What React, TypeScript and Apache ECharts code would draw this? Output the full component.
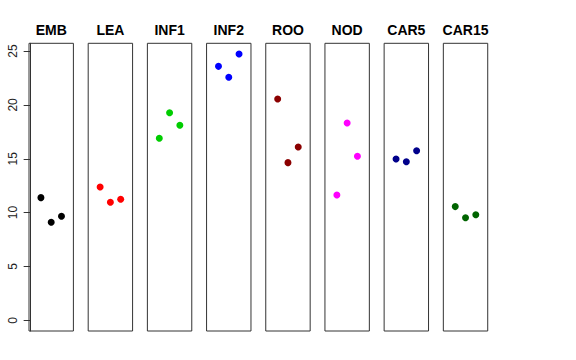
import React, { useEffect, useRef } from "react";
import * as echarts from "echarts";

const categories = ["EMB", "LEA", "INF1", "INF2", "ROO", "NOD", "CAR5", "CAR15"];
const colors = ["#000000", "#FF0000", "#00CD00", "#0000FF", "#8B0000", "#FF00FF", "#00008B", "#006400"];
const xPositions = [1, 2, 3];
const embValues = [11.39, 9.1, 9.66];
const leaValues = [12.38, 10.96, 11.24];
const inf1Values = [16.9, 19.28, 18.11];
const inf2Values = [23.58, 22.56, 24.73];
const rooValues = [20.55, 14.64, 16.09];
const nodValues = [11.64, 18.32, 15.23];
const car5Values = [14.98, 14.73, 15.75];
const car15Values = [10.56, 9.53, 9.81];
const yTicks = [0, 5, 10, 15, 20, 25];

const allValues = [embValues, leaValues, inf1Values, inf2Values, rooValues, nodValues, car5Values, car15Values];

const FONT = "'Liberation Sans', Arial, Helvetica, sans-serif";

export default function App() {
  const ref = useRef<HTMLDivElement>(null);
  useEffect(() => {
    if (!ref.current) return;
    const chart = echarts.init(ref.current, null, { renderer: "svg" });
    const panelLeft0 = 29;
    const panelStep = 59.19;
    const panelWidth = 44.4;
    const top = 43.3;
    const height = 287.7;
    const yMax = Math.max(...allValues.flat());
    const yMin = 0;
    const ext = (yMax - yMin) * 0.04;

    const grids: any[] = [];
    const xAxes: any[] = [];
    const yAxes: any[] = [];
    const series: any[] = [];
    const graphics: any[] = [];

    categories.forEach((cat, i) => {
      const left = panelLeft0 + i * panelStep;
      grids.push({
        left,
        top,
        width: panelWidth,
        height,
        show: true,
        borderColor: "#333",
        borderWidth: 1,
        backgroundColor: "transparent",
      });
      xAxes.push({
        type: "value",
        gridIndex: i,
        min: -0.16,
        max: 4.16,
        show: false,
      });
      yAxes.push({
        type: "value",
        gridIndex: i,
        min: yMin - ext,
        max: yMax + ext,
        show: i === 0,
        splitLine: { show: false },
        axisLine: { show: i === 0, lineStyle: { color: "#333" } },
        axisTick: {
          show: i === 0,
          length: 7,
          customValues: yTicks,
          lineStyle: { color: "#333" },
        },
        axisLabel: {
          show: i === 0,
          customValues: yTicks,
          rotate: 90,
          margin: 10,
          color: "#222",
          fontSize: 12,
          fontFamily: FONT,
        },
      });
      series.push({
        type: "scatter",
        xAxisIndex: i,
        yAxisIndex: i,
        symbol: "circle",
        symbolSize: 7,
        itemStyle: { color: colors[i], opacity: 1 },
        data: xPositions.map((x, k) => [x, allValues[i][k]]),
      });
      graphics.push({
        type: "text",
        x: left + panelWidth / 2,
        y: 30,
        style: {
          text: cat,
          textAlign: "center",
          textVerticalAlign: "middle",
          font: `bold 14px ${FONT}`,
          fill: "#000",
        },
      });
    });

    chart.setOption({
      animation: false,
      backgroundColor: "#ffffff",
      grid: grids,
      xAxis: xAxes,
      yAxis: yAxes,
      series,
      graphic: graphics,
    });
    return () => chart.dispose();
  }, []);
  return (
    <div
      ref={ref}
      style={{ position: "fixed", left: 0, top: 0, width: 576, height: 360 }}
    />
  );
}
